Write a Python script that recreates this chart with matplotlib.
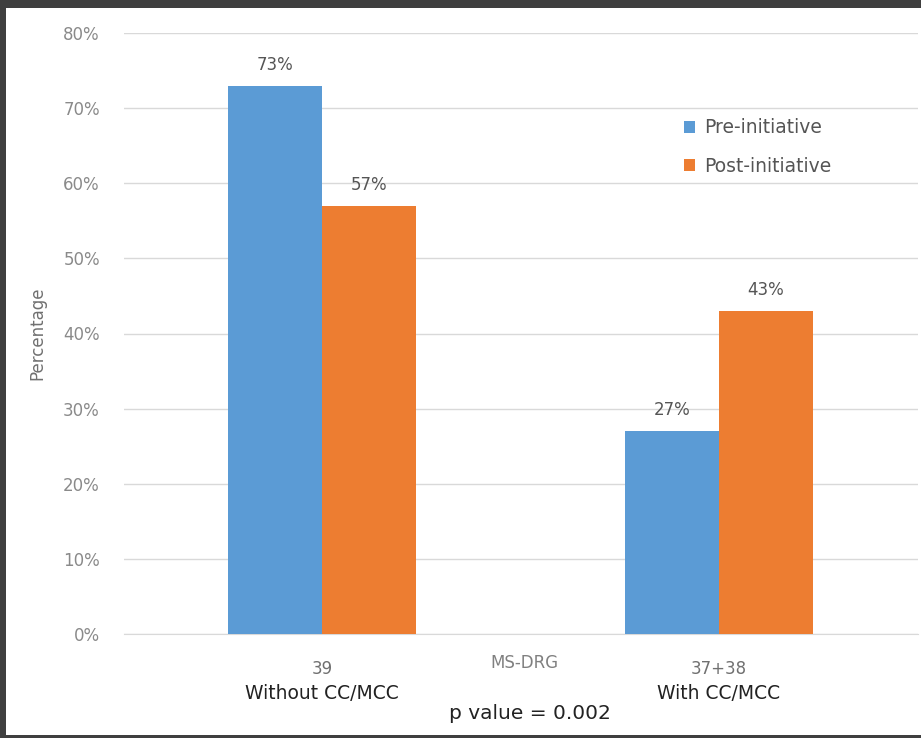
import matplotlib
matplotlib.use("Agg")
import matplotlib.pyplot as plt
import numpy as np

plt.rcParams['font.family'] = ['DejaVu Sans']

categories = ["39\nWithout CC/MCC", "37+38\nWith CC/MCC"]
cat_top = ["39", "37+38"]
cat_bottom = ["Without CC/MCC", "With CC/MCC"]
series_names = ["Pre-initiative", "Post-initiative"]
pre = [73, 27]
post = [57, 43]
yticks = [0, 10, 20, 30, 40, 50, 60, 70, 80]
colors = ["#5B9BD5", "#ED7D31"]

fig = plt.figure(figsize=(9.21, 7.38), dpi=100, facecolor="#3f3f3f")
bg = fig.add_axes([6/921, 3/738, 1.0, 727/738], zorder=-10)
bg.set_facecolor("white")
bg.set_xticks([]); bg.set_yticks([])
for s in bg.spines.values():
    s.set_visible(False)

ax = fig.add_axes([123.5/921, 1-634/738, 794/921, 601/738], zorder=1)
ax.set_facecolor("none")
x = np.arange(len(categories))
w = 0.237
b1 = ax.bar(x - w/2, pre, width=w, color=colors[0], label=series_names[0], zorder=3)
b2 = ax.bar(x + w/2, post, width=w, color=colors[1], label=series_names[1], zorder=3)

for bars, vals in ((b1, pre), (b2, post)):
    for rect, v in zip(bars, vals):
        ax.annotate(f"{v}%", (rect.get_x() + rect.get_width()/2, v),
                    xytext=(0, 15), textcoords="offset points", ha="center", va="center",
                    fontsize=12, color="#555555")

ax.set_xlim(-0.5, 1.5)
ax.set_ylim(0, 80)
ax.set_yticks(yticks)
ax.set_yticklabels([f"{t}%" for t in yticks], fontsize=12, color="#8a8a8a")
ax.tick_params(axis="y", length=0, pad=17)
ax.grid(axis="y", color="#d9d9d9", linewidth=1, zorder=0)
for s in ("top", "right", "left"):
    ax.spines[s].set_visible(False)
ax.spines["bottom"].set_color("#d9d9d9")
ax.set_xticks(x)
ax.set_xticklabels([""] * len(x))
ax.tick_params(axis="x", length=0)

for xi, t, b in zip(x, cat_top, cat_bottom):
    ax.annotate(t, (xi, 0), xytext=(0, -25), textcoords="offset points",
                ha="center", va="center", fontsize=12, color="#707070")
    ax.annotate(b, (xi, 0), xytext=(0, -42.5), textcoords="offset points",
                ha="center", va="center", fontsize=13.5, color="#222222")

ax.annotate("MS-DRG", (0.5, 0), xycoords=("axes fraction", "data"), xytext=(3, -21),
            textcoords="offset points", ha="center", va="center", fontsize=12, color="#808080")
ax.annotate("p value = 0.002", (0.5, 0), xycoords=("axes fraction", "data"), xytext=(7, -57),
            textcoords="offset points", ha="center", va="center", fontsize=14.5, color="#222222")

ax.set_ylabel("Percentage", fontsize=12, color="#707070", labelpad=12)

leg = fig.legend(handles=[b1, b2], labels=series_names, loc="center left",
                 bbox_to_anchor=(684/921, 1-147/738), bbox_transform=fig.transFigure,
                 frameon=False, fontsize=13.5, borderpad=0, borderaxespad=0,
                 handlelength=0.6, handleheight=0.6, handletextpad=0.45, labelspacing=1.05,
                 labelcolor="#555555")

fig.savefig("out.png", dpi=100, facecolor=fig.get_facecolor())
